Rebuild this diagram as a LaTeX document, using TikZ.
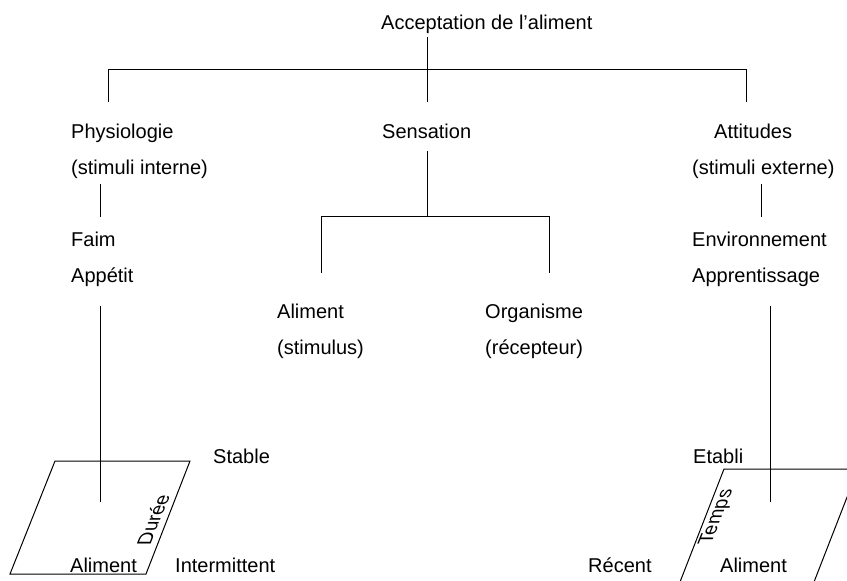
\documentclass[tikz,border=0pt]{standalone}
\usepackage{fontspec}
\setmainfont{Liberation Sans}
\begin{document}
\begin{tikzpicture}[x=1pt,y=-1pt,
  lbl/.style={anchor=base west, inner sep=0pt, font=\fontsize{20}{24}\selectfont},
  rlbl/.style={inner sep=0pt, cm={0.375,0.927,-1,0,(0,0)}, font=\fontsize{20}{24}\selectfont},
  ln/.style={draw=black, line width=1pt}]
\useasboundingbox (0,0) rectangle (847,581);
\clip (0,0) rectangle (847,581);
\fill[white] (0,0) rectangle (847,581);
% texts
\node[lbl] (accept) at (381,29) {Acceptation de l’aliment};
\node[lbl] (phys) at (71,138) {Physiologie};
\node[lbl] (physb) at (71,174) {(stimuli interne)};
\node[lbl] (sens) at (382,138) {Sensation};
\node[lbl] (att) at (714,138) {Attitudes};
\node[lbl] (attb) at (692,174) {(stimuli externe)};
\node[lbl] (faim) at (71,246) {Faim};
\node[lbl] (app) at (71,282) {Appétit};
\node[lbl] (alim) at (277,318) {Aliment};
\node[lbl] (stim) at (277,354) {(stimulus)};
\node[lbl] (org) at (485,318) {Organisme};
\node[lbl] (rec) at (485,354) {(récepteur)};
\node[lbl] (env) at (692,246) {Environnement};
\node[lbl] (appr) at (692,282) {Apprentissage};
\node[lbl] (stable) at (213,463) {Stable};
\node[lbl] (alimL) at (70,572) {Aliment};
\node[lbl] (inter) at (175,572) {Intermittent};
\node[lbl] (etabli) at (693,463) {Etabli};
\node[lbl] (recent) at (588,572) {Récent};
\node[lbl] (alimR) at (720,572) {Aliment};
\node[rlbl] (duree) at (153,520) {Durée};
\node[rlbl] (temps) at (717,517) {Temps};
% junction coordinates
\coordinate (a0) at (427,37);
\coordinate (a1) at (427,102);
\coordinate (hL) at (108,69);
\coordinate (hR) at (746,69);
\coordinate (hLd) at (108,102);
\coordinate (hRd) at (746,102);
\coordinate (p0) at (100,184);
\coordinate (p1) at (100,217);
\coordinate (s0) at (427,151);
\coordinate (s1) at (427,216);
\coordinate (sL) at (321,216);
\coordinate (sR) at (549,216);
\coordinate (sLd) at (321,273);
\coordinate (sRd) at (549,273);
\coordinate (t0) at (761,184);
\coordinate (t1) at (761,217);
\coordinate (f0) at (100,306);
\coordinate (f1) at (100,502);
\coordinate (e0) at (770,306);
\coordinate (e1) at (770,502);
% connectors
\draw[ln] (a0) -- (a1);
\draw[ln] (hLd) -- (hL) -- (hR) -- (hRd);
\draw[ln] (p0) -- (p1);
\draw[ln] (s0) -- (s1);
\draw[ln] (sLd) -- (sL) -- (sR) -- (sRd);
\draw[ln] (t0) -- (t1);
\draw[ln] (f0) -- (f1);
\draw[ln] (e0) -- (e1);
% parallelograms
\coordinate (L1) at (55,461);
\coordinate (L2) at (190,461);
\coordinate (L3) at (146,574);
\coordinate (L4) at (10,574);
\draw[ln] (L1) -- (L2) -- (L3) -- (L4) -- cycle;
\coordinate (R1) at (724,469);
\coordinate (R2) at (858,469);
\coordinate (R3) at (814,582);
\coordinate (R4) at (680,582);
\draw[ln] (R1) -- (R2) -- (R3) -- (R4) -- cycle;
\end{tikzpicture}
\end{document}
